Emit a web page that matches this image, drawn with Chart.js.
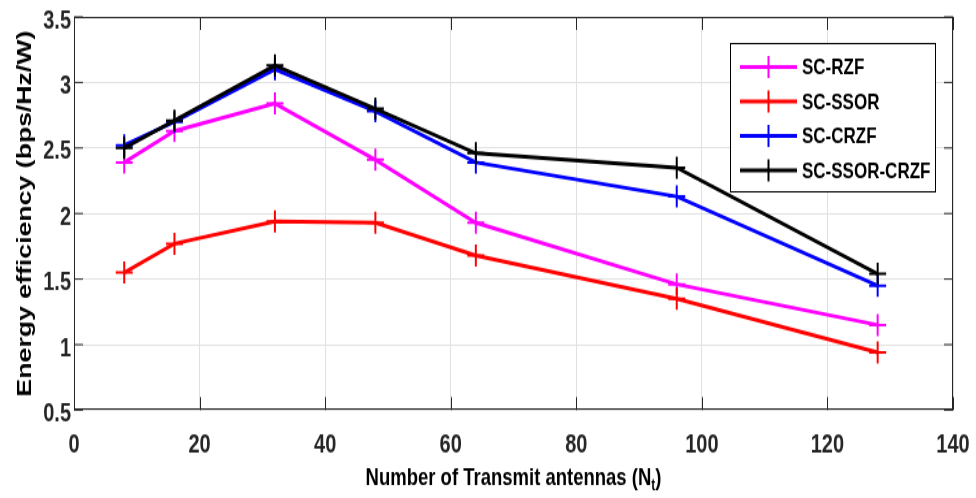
<!DOCTYPE html>
<html>
<head>
<meta charset="utf-8">
<script src="https://cdn.jsdelivr.net/npm/chart.js@4"></script>
<style>
  html, body { margin: 0; padding: 0; background: #fff; }
  #frame { width: 976px; height: 498px; overflow: hidden; }
  /* the figure was exported with a taller aspect, so the whole plot is stretched vertically */
  #stretch { width: 976px; height: 383px; transform: scaleY(1.3003); transform-origin: 0 0; }
</style>
</head>
<body>
<div id="frame"><div id="stretch"><canvas id="ee" width="976" height="383"></canvas></div></div>
<script>
// ─── Data ────────────────────────────────────────────────────────────────────
const antennas   = [8, 16, 32, 48, 64, 96, 128];
const scRzf      = [2.39, 2.63, 2.84, 2.41, 1.93, 1.46, 1.15];
const scSsor     = [1.55, 1.77, 1.94, 1.93, 1.68, 1.35, 0.94];
const scCrzf     = [2.52, 2.70, 3.10, 2.78, 2.39, 2.13, 1.45];
const scSsorCrzf = [2.50, 2.71, 3.13, 2.80, 2.46, 2.35, 1.54];

const seriesNames  = ['SC-RZF', 'SC-SSOR', 'SC-CRZF', 'SC-SSOR-CRZF'];
const seriesColors = ['#ff00ff', '#ff0000', '#0000ff', '#000000'];

const xTickVals   = [0, 20, 40, 60, 80, 100, 120, 140];
const xTickLabels = ['0', '20', '40', '60', '80', '100', '120', '140'];
const yTickVals   = [0.5, 1, 1.5, 2, 2.5, 3, 3.5];
const yTickLabels = ['0.5', '1', '1.5', '2', '2.5', '3', '3.5'];

const xTitle = 'Number of Transmit antennas (N';
const xTitleSub = 't';
const yTitle = 'Energy efficiency (bps/Hz/W)';

const TICK_FONT = { family: '"Liberation Sans Narrow", "Arial Narrow", Arial, sans-serif', size: 20, weight: 'bold' };
const AXIS_COLOR = '#262626';

// ─── Box with inward ticks (drawn under the lines) ───────────────────────────
const axesBox = {
  id: 'axesBox',
  beforeDatasetsDraw(chart) {
    const { ctx, chartArea: a, scales: { x, y } } = chart;
    ctx.save();
    ctx.strokeStyle = AXIS_COLOR; ctx.lineWidth = 1;
    ctx.beginPath();
    xTickVals.forEach(v => {
      const px = Math.round(x.getPixelForValue(v)) + 0.5;
      ctx.moveTo(px, a.bottom); ctx.lineTo(px, a.bottom - 10);
      ctx.moveTo(px, a.top);    ctx.lineTo(px, a.top + 10);
    });
    yTickVals.forEach(v => {
      const py = y.getPixelForValue(v);
      ctx.moveTo(a.left, py);  ctx.lineTo(a.left + 9, py);
      ctx.moveTo(a.right, py); ctx.lineTo(a.right - 9, py);
    });
    ctx.stroke();
    ctx.strokeRect(Math.round(a.left) + 0.5, Math.round(a.top) + 0.5, Math.round(a.width) - 1, Math.round(a.height) - 1);
    ctx.restore();
  }
};

// ─── Legend box in the upper right + axis titles ─────────────────────────────
const boxLegend = {
  id: 'boxLegend',
  afterDatasetsDraw(chart) {
    const { ctx } = chart;
    const bx = 730, by = 33, bw = 205, bh = 114;
    ctx.save();
    ctx.fillStyle = '#fff'; ctx.fillRect(bx, by, bw, bh);
    ctx.strokeStyle = '#000'; ctx.lineWidth = 1;
    ctx.strokeRect(bx + 0.5, by + 0.5, bw, bh);
    chart.data.datasets.forEach((ds, i) => {
      const cy = by + 18.5 + i * 26.5;
      ctx.strokeStyle = ds.borderColor; ctx.lineWidth = 3;
      ctx.beginPath(); ctx.moveTo(740, cy); ctx.lineTo(797, cy); ctx.stroke();
      ctx.lineWidth = 2;
      ctx.beginPath();
      ctx.moveTo(768.5 - 8.5, cy); ctx.lineTo(768.5 + 8.5, cy);
      ctx.moveTo(768.5, cy - 8.5); ctx.lineTo(768.5, cy + 8.5);
      ctx.stroke();
      ctx.fillStyle = '#000';
      ctx.font = 'bold 17px Arial, "Liberation Sans", sans-serif';
      ctx.textAlign = 'left'; ctx.textBaseline = 'middle';
      ctx.fillText(ds.label, 802, cy + 1);
    });
    ctx.restore();
  },
  afterDraw(chart) {
    const { ctx, chartArea: a } = chart;
    ctx.save();
    ctx.fillStyle = '#000';
    // x title with subscript
    ctx.font = 'bold 18.5px Arial, "Liberation Sans", sans-serif';
    const mainW = ctx.measureText(xTitle).width;
    ctx.font = 'bold 12px Arial, "Liberation Sans", sans-serif';
    const subW = ctx.measureText(xTitleSub).width;
    ctx.font = 'bold 18.5px Arial, "Liberation Sans", sans-serif';
    const closeW = ctx.measureText(')').width;
    let tx = (a.left + a.right) / 2 - (mainW + subW + closeW) / 2;
    const ty = 368;
    ctx.textAlign = 'left'; ctx.textBaseline = 'middle';
    ctx.fillText(xTitle, tx, ty); tx += mainW;
    ctx.font = 'bold 12px Arial, "Liberation Sans", sans-serif';
    ctx.fillText(xTitleSub, tx, ty + 6); tx += subW;
    ctx.font = 'bold 18.5px Arial, "Liberation Sans", sans-serif';
    ctx.fillText(')', tx, ty);
    // y title
    ctx.translate(25, (a.top + a.bottom) / 2);
    ctx.rotate(-Math.PI / 2);
    ctx.textAlign = 'center';
    ctx.font = 'bold 20.5px Arial, "Liberation Sans", sans-serif';
    ctx.fillText(yTitle, 0, 0);
    ctx.restore();
  }
};

// ─── Chart ───────────────────────────────────────────────────────────────────
const seriesData = [scRzf, scSsor, scCrzf, scSsorCrzf];

new Chart(document.getElementById('ee'), {
  type: 'line',
  data: {
    datasets: seriesData.map((vals, i) => ({
      label: seriesNames[i],
      data: vals.map((v, j) => ({ x: antennas[j], y: v })),
      borderColor: seriesColors[i], backgroundColor: seriesColors[i],
      borderWidth: 3, tension: 0, fill: false,
      pointStyle: 'cross', pointRadius: 8.5, pointBorderWidth: 2, pointHoverRadius: 8.5,
      order: seriesData.length - i,
    }))
  },
  options: {
    responsive: false, animation: false,
    layout: { padding: { top: 13, right: 23, left: 0, bottom: 0 } },
    plugins: { legend: { display: false }, tooltip: { enabled: false } },
    scales: {
      x: {
        type: 'linear', min: 0, max: 140,
        afterBuildTicks: s => { s.ticks = xTickVals.map(v => ({ value: v })); },
        afterFit: s => { s.height = 67.6; s.paddingLeft = 0; s.paddingRight = 0; },
        ticks: { color: AXIS_COLOR, font: TICK_FONT, padding: 15, maxRotation: 0,
          callback: v => xTickLabels[xTickVals.indexOf(v)] },
        grid: { color: '#e0e0e0', lineWidth: 1, drawTicks: false },
        border: { display: false }
      },
      y: {
        type: 'linear', min: 0.5, max: 3.5,
        afterBuildTicks: s => { s.ticks = yTickVals.map(v => ({ value: v })); },
        afterFit: s => { s.width = 74; s.paddingTop = 0; s.paddingBottom = 0; },
        ticks: { color: AXIS_COLOR, font: TICK_FONT, padding: 3, labelOffset: 3,
          callback: v => yTickLabels[yTickVals.indexOf(v)] },
        grid: { color: '#e0e0e0', lineWidth: 1, drawTicks: false },
        border: { display: false }
      }
    }
  },
  plugins: [axesBox, boxLegend]
});
</script>
</body>
</html>
